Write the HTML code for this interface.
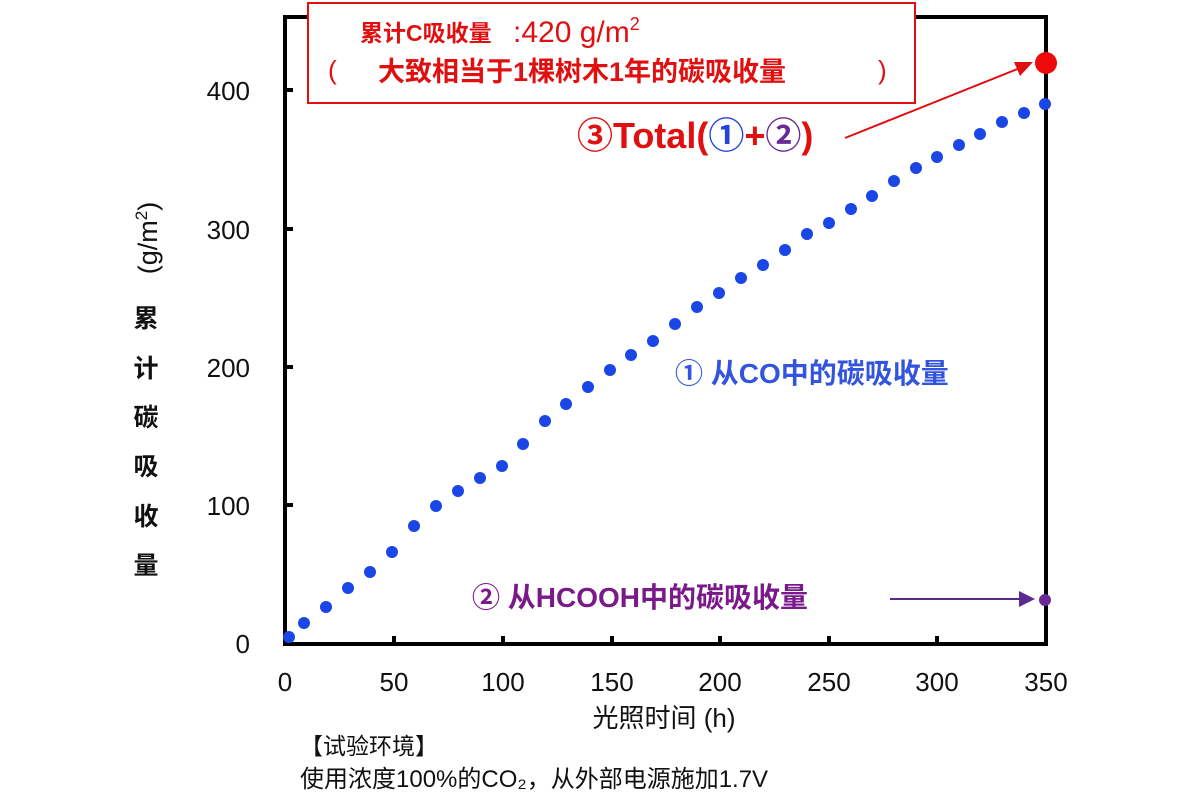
<!DOCTYPE html>
<html><head><meta charset="utf-8"><style>
body{margin:0;background:#fff;width:1200px;height:800px;overflow:hidden}
text{font-family:"Liberation Sans","Noto Sans CJK SC",sans-serif}
</style></head><body>
<svg width="1200" height="800" viewBox="0 0 1200 800" xmlns="http://www.w3.org/2000/svg">
<rect x="0" y="0" width="1200" height="800" fill="#fff"/>
<rect x="285" y="17" width="761" height="627" fill="none" stroke="#000" stroke-width="4"/>
<g stroke="#000" stroke-width="4">
<line x1="285" y1="90" x2="293" y2="90"/><line x1="285" y1="229" x2="293" y2="229"/><line x1="285" y1="367" x2="293" y2="367"/><line x1="285" y1="505" x2="293" y2="505"/>
<line x1="394" y1="644" x2="394" y2="636"/><line x1="503" y1="644" x2="503" y2="636"/><line x1="612" y1="644" x2="612" y2="636"/><line x1="720" y1="644" x2="720" y2="636"/><line x1="829" y1="644" x2="829" y2="636"/><line x1="937" y1="644" x2="937" y2="636"/>
</g>
<g font-size="26" fill="#111" text-anchor="end">
<text x="250" y="100">400</text><text x="250" y="239">300</text><text x="250" y="377">200</text><text x="250" y="515">100</text><text x="250" y="653">0</text>
</g>
<g font-size="26" fill="#111" text-anchor="middle">
<text x="285" y="691">0</text><text x="394" y="691">50</text><text x="503" y="691">100</text><text x="612" y="691">150</text><text x="720" y="691">200</text><text x="829" y="691">250</text><text x="937" y="691">300</text><text x="1046" y="691">350</text>
</g>
<text x="664" y="727" font-size="26" text-anchor="middle" fill="#111">光照时间 (h)</text>
<text transform="translate(157,238) rotate(-90)" font-size="27" text-anchor="middle" fill="#111">(g/m<tspan font-size="17" dy="-10">2</tspan><tspan dy="10">)</tspan></text>
<g font-size="25" font-weight="bold" fill="#111" text-anchor="middle">
<text x="146" y="327">累</text><text x="146" y="377">计</text><text x="146" y="426">碳</text><text x="146" y="475">吸</text><text x="146" y="525">收</text><text x="146" y="574">量</text>
</g>
<text x="300" y="754" font-size="23" fill="#111">【试验环境】</text>
<text x="300" y="787" font-size="24" fill="#111">使用浓度100%的CO₂，从外部电源施加1.7V</text>
<g fill="#1a46e6">
<circle cx="289" cy="637" r="6"/><circle cx="304" cy="623" r="6"/><circle cx="326" cy="607" r="6"/><circle cx="348" cy="588" r="6"/><circle cx="370" cy="572" r="6"/><circle cx="392" cy="552" r="6"/><circle cx="414" cy="526" r="6"/><circle cx="436" cy="506" r="6"/><circle cx="458" cy="491" r="6"/><circle cx="480" cy="478" r="6"/><circle cx="502" cy="466" r="6"/><circle cx="523" cy="444" r="6"/><circle cx="545" cy="421" r="6"/><circle cx="566" cy="404" r="6"/><circle cx="588" cy="387" r="6"/><circle cx="610" cy="370" r="6"/><circle cx="631" cy="355" r="6"/><circle cx="653" cy="341" r="6"/><circle cx="675" cy="324" r="6"/><circle cx="697" cy="307" r="6"/><circle cx="719" cy="293" r="6"/><circle cx="741" cy="278" r="6"/><circle cx="763" cy="265" r="6"/><circle cx="785" cy="250" r="6"/><circle cx="807" cy="234" r="6"/><circle cx="829" cy="223" r="6"/><circle cx="851" cy="209" r="6"/><circle cx="872" cy="196" r="6"/><circle cx="894" cy="181" r="6"/><circle cx="916" cy="168" r="6"/><circle cx="937" cy="157" r="6"/><circle cx="959" cy="145" r="6"/><circle cx="980" cy="134" r="6"/><circle cx="1002" cy="122" r="6"/><circle cx="1024" cy="113" r="6"/><circle cx="1045" cy="104" r="6"/>
</g>
<circle cx="1046" cy="63" r="11" fill="#ee0a0a"/>
<circle cx="1045" cy="600" r="6" fill="#6a2a96"/>
<text x="675" y="383" font-size="28" font-weight="bold" fill="#3355dd">① 从CO中的碳吸收量</text>
<text x="472" y="607" font-size="28" font-weight="bold" fill="#7a1a8a">② 从HCOOH中的碳吸收量</text>
<line x1="890" y1="599" x2="1022" y2="599" stroke="#5a2a90" stroke-width="2"/>
<polygon points="1035,599 1019,591 1019,607" fill="#5a2a90"/>
<text x="577" y="148" font-size="36" font-weight="bold" fill="#e01010">③Total(<tspan fill="#2244dd">①</tspan>+<tspan fill="#6a2a96">②</tspan>)</text>
<line x1="845" y1="138" x2="1020" y2="68" stroke="#e01010" stroke-width="2"/>
<polygon points="1033,62 1014,62 1020,76" fill="#e01010"/>
<rect x="308" y="3" width="607" height="100" fill="#fff" stroke="#e01010" stroke-width="2"/>
<text x="360" y="41" font-size="23" font-weight="bold" fill="#e01010">累计C吸收量</text>
<text x="513" y="42" font-size="30" fill="#e01010">:420 g/m<tspan font-size="18" dy="-12">2</tspan></text>
<text x="328" y="79" font-size="26" fill="#e01010">(</text>
<text x="378" y="81" font-size="27" font-weight="bold" fill="#e01010">大致相当于1棵树木1年的碳吸收量</text>
<text x="878" y="79" font-size="26" fill="#e01010">)</text>
</svg>
</body></html>
